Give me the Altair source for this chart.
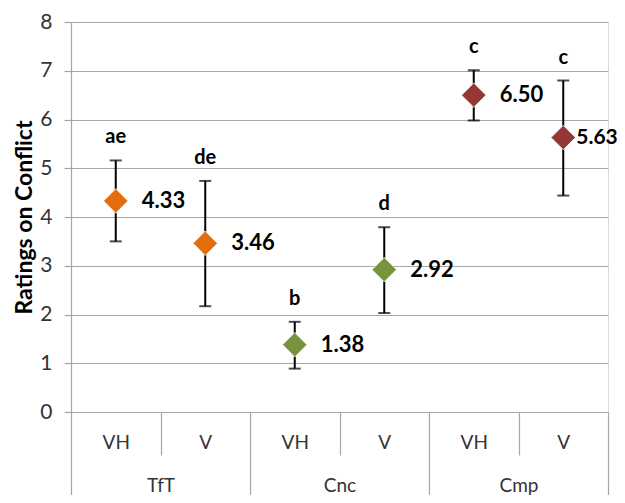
import json
import altair as alt
import pandas as pd

groups = ["TfT", "TfT", "Cnc", "Cnc", "Cmp", "Cmp"]
conds = ["VH", "V", "VH", "V", "VH", "V"]
means = [4.33, 3.46, 1.38, 2.92, 6.50, 5.63]
lows = [3.50, 2.17, 0.89, 2.03, 5.98, 4.44]
highs = [5.16, 4.74, 1.85, 3.79, 7.01, 6.80]
letters = ["ae", "de", "b", "d", "c", "c"]
colors = ["#E46C0A", "#E46C0A", "#77933C", "#77933C", "#953735", "#953735"]
group_names = ["TfT", "Cnc", "Cmp"]
y_ticks = [0, 1, 2, 3, 4, 5, 6, 7, 8]

df = pd.DataFrame({
    "group": groups, "cond": conds, "mean": means, "lo": lows, "hi": highs,
    "letter": letters, "color": colors,
})
df["pos"] = [i + 0.5 for i in range(len(df))]
df["label"] = [f"{m:.2f}" for m in means]

FONT = "Lato"
GRID = "#a6a6a6"
TXT = "#333333"

xscale = alt.Scale(domain=[0, len(df)], nice=False, zero=False)
yscale = alt.Scale(domain=[0, 8], nice=False)
yaxis = alt.Axis(values=y_ticks, title="Ratings on Conflict", grid=True, gridColor=GRID,
                 gridWidth=1.2, domainColor=GRID, domainWidth=1.2, tickColor=GRID,
                 tickSize=7, tickWidth=1.2, labelPadding=12, labelFontSize=21,
                 labelFont=FONT, labelColor=TXT, titleFont=FONT, titleFontSize=23,
                 titleFontWeight="bold", titleColor="black", titlePadding=3)

ax_inner = alt.Axis(values=[p for p in df["pos"]], orient="bottom", title=None,
                    labelExpr=f"{json.dumps(conds)}[floor(datum.value)]",
                    ticks=False, tickSize=0, domain=True, domainColor=GRID, domainWidth=1.2,
                    grid=False, labelFont=FONT, labelFontSize=19, labelColor=TXT,
                    labelBaseline="middle", labelPadding=30, labelAngle=0)
ax_short = alt.Axis(values=[1, 3, 5], orient="bottom", title=None, labels=False,
                    ticks=True, tickSize=43, tickColor=GRID, tickWidth=1.2,
                    domain=False, grid=False)
ax_long = alt.Axis(values=[0, 2, 4, 6], orient="bottom", title=None, labels=False,
                   ticks=True, tickSize=86, tickColor=GRID, tickWidth=1.2,
                   domain=False, grid=False)
ax_outer = alt.Axis(values=[1, 3, 5], orient="bottom", title=None,
                    labelExpr=f"{json.dumps(group_names)}[floor(datum.value/2)]",
                    ticks=False, tickSize=0, domain=False, grid=False,
                    labelFont=FONT, labelFontSize=19, labelColor=TXT,
                    labelBaseline="middle", labelPadding=73, labelAngle=0)

base = alt.Chart(df)

rules = base.mark_rule(color="black", strokeWidth=2).encode(
    x=alt.X("pos:Q", scale=xscale, axis=ax_inner),
    y=alt.Y("lo:Q", scale=yscale, axis=yaxis),
    y2="hi:Q",
)
caps_hi = base.mark_tick(color="black", orient="horizontal", size=12, thickness=2).encode(
    x=alt.X("pos:Q", scale=xscale, axis=ax_short),
    y=alt.Y("hi:Q", scale=yscale, axis=yaxis),
)
caps_lo = base.mark_tick(color="black", orient="horizontal", size=12, thickness=2).encode(
    x=alt.X("pos:Q", scale=xscale, axis=ax_long),
    y=alt.Y("lo:Q", scale=yscale, axis=yaxis),
)
points = base.mark_point(shape="diamond", filled=True, size=600, opacity=1,
                         stroke="white", strokeWidth=0.8).encode(
    x=alt.X("pos:Q", scale=xscale, axis=ax_outer),
    y=alt.Y("mean:Q", scale=yscale, axis=yaxis),
    fill=alt.Color("color:N", scale=None),
)
vals = base.transform_filter(alt.datum.pos < 5).mark_text(
    align="left", baseline="middle", dx=26, font=FONT, fontSize=22, fontWeight="bold",
    color="black").encode(
    x=alt.X("pos:Q", scale=xscale, axis=None),
    y=alt.Y("mean:Q", scale=yscale, axis=yaxis),
    text="label:N",
)
vals_last = base.transform_filter(alt.datum.pos > 5).mark_text(
    align="left", baseline="middle", dx=13, font=FONT, fontSize=21, fontWeight="bold",
    color="black").encode(
    x=alt.X("pos:Q", scale=xscale, axis=None),
    y=alt.Y("mean:Q", scale=yscale, axis=yaxis),
    text="label:N",
)
lets = base.mark_text(align="center", baseline="middle", dy=-23, font=FONT, fontSize=20,
                      fontWeight="bold", color="black").encode(
    x=alt.X("pos:Q", scale=xscale, axis=None),
    y=alt.Y("hi:Q", scale=yscale, axis=yaxis),
    text="letter:N",
)

chart = alt.layer(rules, caps_hi, caps_lo, points, vals, vals_last, lets).resolve_axis(
    x="independent"
).properties(
    width=537, height=390,
    autosize=alt.AutoSizeParams(type="none"),
    padding={"left": 63, "top": 14, "right": 9, "bottom": 83},
).configure_view(stroke=None).configure(background="white")

chart.save("out.html", embed_options={"renderer": "svg", "actions": False})
